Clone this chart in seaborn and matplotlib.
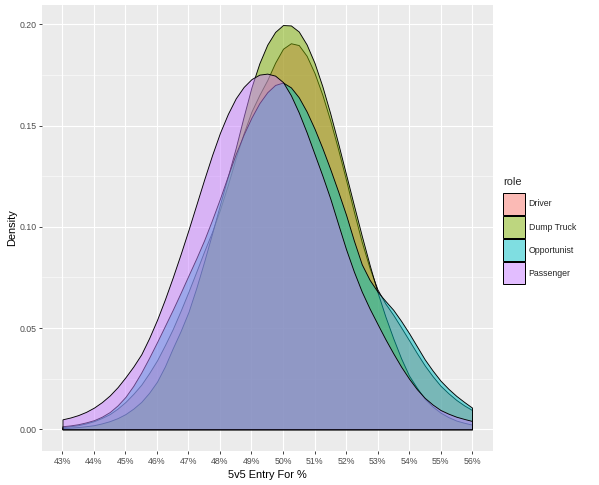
import matplotlib
matplotlib.use("Agg")
import matplotlib.pyplot as plt
from matplotlib.patches import Patch
import seaborn as sns
import pandas as pd

# ---- data (density per percentage point) ----
entry_pct = [43.00, 43.25, 43.50, 43.75, 44.00, 44.25, 44.50, 44.75, 45.00, 45.25, 45.50,
             45.75, 46.00, 46.25, 46.50, 46.75, 47.00, 47.25, 47.50, 47.75, 48.00, 48.25,
             48.50, 48.75, 49.00, 49.25, 49.50, 49.75, 50.00, 50.25, 50.50, 50.75, 51.00,
             51.25, 51.50, 51.75, 52.00, 52.25, 52.50, 52.75, 53.00, 53.25, 53.50, 53.75,
             54.00, 54.25, 54.50, 54.75, 55.00, 55.25, 55.50, 55.75, 56.00]

driver = [0.0010, 0.0015, 0.0020, 0.0029, 0.0040, 0.0056, 0.0075, 0.0102, 0.0135, 0.0175,
          0.0220, 0.0277, 0.0340, 0.0415, 0.0495, 0.0585, 0.0680, 0.0779, 0.0880, 0.0976,
          0.1085, 0.1208, 0.1340, 0.1462, 0.1570, 0.1652, 0.1725, 0.1811, 0.1880, 0.1907,
          0.1898, 0.1845, 0.1760, 0.1652, 0.1525, 0.1383, 0.1232, 0.1075, 0.0925, 0.0796,
          0.0690, 0.0621, 0.0565, 0.0503, 0.0440, 0.0376, 0.0315, 0.0262, 0.0215, 0.0178,
          0.0145, 0.0118, 0.0095]
dump_truck = [0.0006, 0.0008, 0.0011, 0.0015, 0.0020, 0.0029, 0.0040, 0.0055, 0.0075, 0.0102,
              0.0135, 0.0180, 0.0235, 0.0310, 0.0400, 0.0485, 0.0580, 0.0699, 0.0830, 0.0968,
              0.1110, 0.1249, 0.1390, 0.1544, 0.1690, 0.1808, 0.1900, 0.1963, 0.1997, 0.1995,
              0.1965, 0.1901, 0.1810, 0.1694, 0.1560, 0.1413, 0.1260, 0.1107, 0.0956, 0.0812,
              0.0677, 0.0557, 0.0449, 0.0350, 0.0265, 0.0205, 0.0150, 0.0112, 0.0082, 0.0060,
              0.0043, 0.0032, 0.0023]
opportunist = [0.0015, 0.0019, 0.0025, 0.0034, 0.0045, 0.0062, 0.0085, 0.0118, 0.0160, 0.0215,
               0.0280, 0.0353, 0.0430, 0.0510, 0.0590, 0.0674, 0.0760, 0.0845, 0.0935, 0.1035,
               0.1140, 0.1252, 0.1360, 0.1456, 0.1540, 0.1611, 0.1665, 0.1701, 0.1713, 0.1689,
               0.1640, 0.1570, 0.1485, 0.1389, 0.1285, 0.1175, 0.1060, 0.0932, 0.0815, 0.0738,
               0.0680, 0.0634, 0.0590, 0.0535, 0.0475, 0.0410, 0.0345, 0.0290, 0.0240, 0.0200,
               0.0165, 0.0135, 0.0107]
passenger = [0.0049, 0.0058, 0.0070, 0.0086, 0.0107, 0.0134, 0.0167, 0.0208, 0.0257, 0.0310,
             0.0370, 0.0450, 0.0540, 0.0641, 0.0750, 0.0865, 0.0985, 0.1110, 0.1235, 0.1355,
             0.1465, 0.1558, 0.1635, 0.1691, 0.1730, 0.1752, 0.1757, 0.1747, 0.1715, 0.1650,
             0.1565, 0.1467, 0.1360, 0.1253, 0.1140, 0.1014, 0.0890, 0.0779, 0.0680, 0.0596,
             0.0520, 0.0445, 0.0375, 0.0309, 0.0250, 0.0198, 0.0155, 0.0122, 0.0095, 0.0077,
             0.0062, 0.0051, 0.0041]

roles = ["Driver", "Dump Truck", "Opportunist", "Passenger"]
role_colors = ["#F8766D", "#7CAE00", "#00BFC4", "#C77CFF"]

x_ticks = [43, 44, 45, 46, 47, 48, 49, 50, 51, 52, 53, 54, 55, 56]
x_tick_labels = ["43%", "44%", "45%", "46%", "47%", "48%", "49%", "50%", "51%",
                 "52%", "53%", "54%", "55%", "56%"]
y_ticks = [0.00, 0.05, 0.10, 0.15, 0.20]
y_tick_labels = ["0.00", "0.05", "0.10", "0.15", "0.20"]
y_minor = [0.025, 0.075, 0.125, 0.175]

df = pd.DataFrame({
    "entry": entry_pct * 4,
    "density": driver + dump_truck + opportunist + passenger,
    "role": [r for r in roles for _ in entry_pct],
})

# ---- style ----
sns.set_theme(style="darkgrid", rc={
    "axes.facecolor": "#EBEBEB",
    "grid.color": "white",
    "axes.edgecolor": "none",
})
plt.rcParams["font.family"] = ["Liberation Sans", "DejaVu Sans"]

W, H = 599, 485
fig = plt.figure(figsize=(W / 72, H / 72), dpi=72)
fig.patch.set_facecolor("white")
ax = fig.add_axes([42 / W, 1 - 450.5 / H, (492.5 - 42) / W, (450.5 - 5) / H])

ALPHA = 0.5
for i, (role, col) in enumerate(zip(roles, role_colors)):
    sub = df[df["role"] == role]
    rgba = matplotlib.colors.to_rgba(col, ALPHA)
    ax.fill_between(sub["entry"], sub["density"], 0, facecolor=rgba,
                    edgecolor="black", linewidth=0.9, zorder=3 + i)

ax.set_xlim(43 - 0.65, 56 + 0.65)
ax.set_ylim(-0.0105, 0.2096)

ax.set_xticks(x_ticks)
ax.set_xticklabels(x_tick_labels)
ax.set_yticks(y_ticks)
ax.set_yticklabels(y_tick_labels)
ax.set_yticks(y_minor, minor=True)

ax.grid(which="major", color="white", linewidth=1.1)
ax.grid(which="minor", axis="y", color="white", linewidth=0.55)
ax.grid(which="minor", axis="x", visible=False)
ax.set_axisbelow(True)
for s in ax.spines.values():
    s.set_visible(False)

ax.tick_params(axis="both", which="major", length=2.75, width=0.9, color="#333333",
               labelsize=8.8, labelcolor="#4D4D4D", pad=2.2, bottom=True, left=True)
ax.tick_params(axis="x", which="major", pad=3.5)
ax.tick_params(axis="both", which="minor", length=0)

ax.set_xlabel("5v5 Entry For %", fontsize=11, color="black", labelpad=4)
ax.set_ylabel("Density", fontsize=11, color="black", labelpad=3)

handles = [Patch(facecolor=matplotlib.colors.to_rgba(c, ALPHA), edgecolor="black", linewidth=1.0)
           for c in role_colors]
leg = fig.legend(handles, roles, loc="upper left", bbox_to_anchor=(503 / W, 1 - 177 / H),
                 frameon=False, fontsize=8.8, title="role", title_fontsize=11,
                 handlelength=2.5, handleheight=3.47, labelspacing=0.12,
                 handletextpad=0.4, borderpad=0, borderaxespad=0, alignment="left")
leg._legend_box.sep = 6

fig.savefig("out.png", dpi=72)
